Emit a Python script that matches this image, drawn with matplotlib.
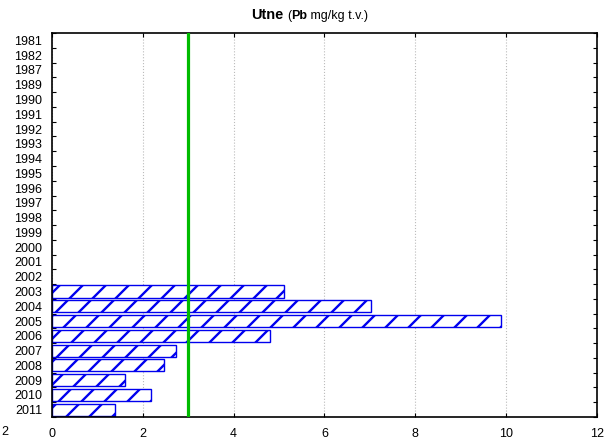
import numpy as np
import matplotlib
matplotlib.use("Agg")
import matplotlib.pyplot as plt
from matplotlib.offsetbox import TextArea, HPacker, AnchoredOffsetbox

# higher dpi gives a wider hatch spacing; sizes are scaled back by S
DPI = 138
S = 100 / DPI

plt.rcParams['font.family'] = ['Liberation Sans', 'DejaVu Sans']
plt.rcParams['hatch.linewidth'] = 1.7 * S

# --- Data ---
years = ["1981", "1982", "1987", "1989", "1990", "1991", "1992", "1993", "1994",
         "1995", "1996", "1997", "1998", "1999", "2000", "2001", "2002", "2003",
         "2004", "2005", "2006", "2007", "2008", "2009", "2010", "2011"]
values = [0, 0, 0, 0, 0, 0, 0, 0, 0, 0, 0, 0, 0, 0, 0, 0, 0,
          5.11, 7.02, 9.88, 4.80, 2.72, 2.47, 1.61, 2.17, 1.39]
limit = 3.0
xticks = [0, 2, 4, 6, 8, 10, 12]

fig = plt.figure(figsize=(616 / DPI, 441 / DPI), dpi=DPI)
ax = fig.add_axes([0.0844, 0.0544, 0.8846, 0.8706])

y = np.arange(len(years))
mask = np.array(values) > 0
ax.barh(y[mask], np.array(values)[mask], height=0.82, color="white",
        edgecolor="#0000ee", hatch="//", linewidth=1.0 * S, zorder=2)

ax.axvline(limit, color="#00bb00", linewidth=2.3 * S, zorder=3)

ax.set_xlim(0, 12)
ax.set_ylim(len(years) - 0.5, -0.5)
ax.set_xticks(xticks)
ax.set_xticklabels([str(t) for t in xticks])
ax.set_yticks(y)
ax.set_yticklabels(years)
ax.set_yticks(np.arange(len(years) + 1) - 0.5, minor=True)

ax.grid(axis="x", color="#bbbbbb", linestyle=":", linewidth=0.8 * S, zorder=0)
ax.tick_params(axis="y", which="major", length=0, pad=7 * S, labelsize=9 * S)
ax.tick_params(axis="y", which="minor", direction="in", length=3 * S,
               width=0.8 * S, left=True, right=True)
ax.tick_params(axis="x", which="major", direction="in", length=3 * S,
               width=0.8 * S, top=True, bottom=True, pad=8 * S, labelsize=9 * S)
for s in ax.spines.values():
    s.set_linewidth(1.2 * S)

# stray label at the lower left corner
fig.text(0.002, 0.0205, "2", fontsize=9 * S, va="center", ha="left")

# --- Title ---
t1 = TextArea("Utne", textprops=dict(fontsize=10.5 * S, fontweight="bold"))
sp = TextArea(" ", textprops=dict(fontsize=9 * S))
t2 = TextArea("(", textprops=dict(fontsize=9 * S))
t3 = TextArea("Pb", textprops=dict(fontsize=9 * S, fontweight="bold"))
t4 = TextArea(" mg/kg t.v.)", textprops=dict(fontsize=9 * S))
box = HPacker(children=[t1, sp, t2, t3, t4], align="baseline", pad=0, sep=0)
anch = AnchoredOffsetbox(loc="lower center", child=box, pad=0, frameon=False,
                         bbox_to_anchor=(0.503, 0.95), bbox_transform=fig.transFigure,
                         borderpad=0)
fig.add_artist(anch)

fig.savefig("out.png", dpi=DPI)
